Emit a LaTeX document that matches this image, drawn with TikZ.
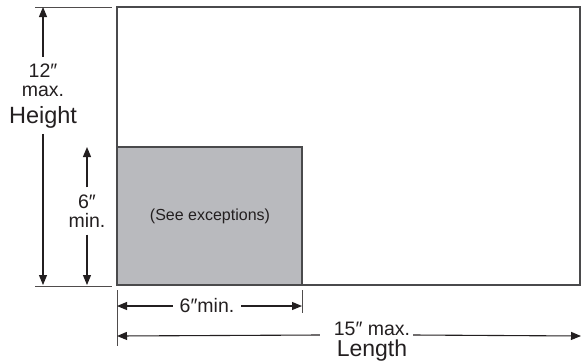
\documentclass[tikz,border=0pt]{standalone}
\usepackage{fontspec}
\setmainfont{Liberation Sans}
\usetikzlibrary{arrows.meta}
\definecolor{ink}{HTML}{231F20}
\definecolor{rim}{HTML}{4A4A4C}
\definecolor{panel}{HTML}{B9BABE}
\tikzset{
  dimarrow/.style={ink, line width=1.1pt, -{Triangle[length=10pt,width=8pt]}},
  rimline/.style={draw=rim, line width=1.6pt},
  guide/.style={ink!80, line width=1pt},
  lbl/.style={inner sep=0pt, outer sep=7pt, align=center, text=ink}
}

\begin{document}
\begin{tikzpicture}[x=1pt,y=1pt]
      \useasboundingbox (0,0) rectangle (585,360);
      % piece outlines
      \fill[panel] (117,213) rectangle (302,75);
      \draw[rimline] (117,353) rectangle (580,75);
      \draw[rimline] (117,213) rectangle (302,75);
      % guide lines
      \draw[guide] (35,353) -- (112,353);
      \draw[guide] (35,74) -- (112,74);
      \draw[guide] (117,70) -- (117,14);
      \draw[guide] (302,70) -- (302,47);
      \node (exc) at (210,144)[text=ink, font=\fontsize{16}{18}\selectfont]{(See exceptions)};
      % height
      \coordinate (Htop) at (43,353);
      \coordinate (Hbot) at (43,75);
      \node (Hmax) at (43,280)[lbl, font=\fontsize{19.5}{19}\selectfont]{12″\\max.};
      \node (Hword) at (43,243)[lbl, outer sep=6pt, font=\fontsize{23.5}{24}\selectfont]{Height};
      \draw[dimarrow] (Hmax) -- (Htop);
      \draw[dimarrow] (Hword) -- (Hbot);
      % height min
      \coordinate (Mtop) at (87,213);
      \coordinate (Mbot) at (87,75);
      \node (Mmin) at (87,149)[lbl, outer sep=7pt, font=\fontsize{19.5}{19.5}\selectfont]{6″\\min.};
      \draw[dimarrow] (Mmin) -- (Mtop);
      \draw[dimarrow] (Mmin) -- (Mbot);
      % length min
      \coordinate (Wl) at (117,54);
      \coordinate (Wr) at (302,54);
      \node (Wmin) at (207,54)[lbl, font=\fontsize{19.5}{20}\selectfont]{6″min.};
      \draw[dimarrow] (Wmin) -- (Wl);
      \draw[dimarrow] (Wmin) -- (Wr);
      % length max
      \coordinate (Ll) at (117,24);
      \coordinate (Lr) at (581,24);
      \node (Lmax) at (372,25)[lbl, font=\fontsize{19.5}{19}\selectfont, anchor=base]{15″ max.};
      \node (Lword) at (372,4)[lbl, font=\fontsize{23}{24}\selectfont, anchor=base]{Length};
      \draw[dimarrow] ([xshift=-7pt]Lmax.base west) -- (Ll);
      \draw[dimarrow] ([xshift=-4pt]Lmax.base east) -- (Lr);
\end{tikzpicture}
\end{document}
